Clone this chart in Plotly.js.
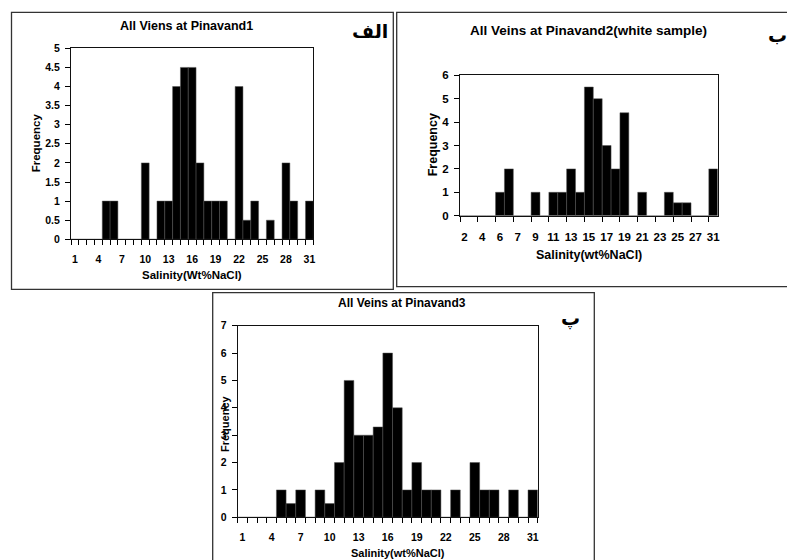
<!DOCTYPE html>
<html><head><meta charset="utf-8">
<script src="https://cdn.plot.ly/plotly-3.0.1.min.js"></script>
<style>html,body{margin:0;padding:0;background:#fff;} #chart{width:787px;height:560px;}</style>
</head><body><div id="chart"></div>
<script>
// ---- data ----
const salinity1 = ['1','2','3','4','5','6','7','8','9','10','11','12','13','14','15','16','17','18','19','20','21','22','23','24','25','26','27','28','29','30','31'];
const freq1 = [0,0,0,0,1,1,0,0,0,2,0,1,1,4,4.5,4.5,2,1,1,1,0,4,0.5,1,0,0.5,0,2,1,0,1];

const salinity2Labels = ['2','4','6','7','9','11','13','15','17','19','21','23','25','27','31'];
const freq2 = [0,0,0,0,1,2,0,0,1,0,1,1,2,1,5.5,5,3,2,4.4,0,1,0,0,1,0.55,0.55,0,0,2];

const salinity3 = ['1','2','3','4','5','6','7','8','9','10','11','12','13','14','15','16','17','18','19','20','21','22','23','24','25','26','27','28','29','30','31'];
const freq3 = [0,0,0,0,1,0.5,1,0,1,0.5,2,5,3,3,3.3,6,4,1,2,1,1,0,1,0,2,1,1,0,1,0,1];

const titles = ['All Viens at Pinavand1','All Veins at Pinavand2(white sample)','All Veins at Pinavand3'];
const xTitles = ['Salinity(Wt%NaCl)','Salinity(wt%NaCl)','Salinity(wt%NaCl)'];
const yTitle = 'Frequency';
const panelTags = ['الف','ب','پ'];

// ---- helpers ----
const W = 787, H = 560;
const px = x => x / W, py = y => 1 - y / H;
const FONT = 'Liberation Sans, Arial, sans-serif';

const pos1 = freq1.map((v,i)=>i+1);
const pos2 = freq2.map((v,i)=>i+1);
const pos3 = freq3.map((v,i)=>i+1);

const tv1 = [], tt1 = [];
salinity1.forEach((s,i)=>{ if(i%3===0){ tv1.push(i+1); tt1.push(s);} });
const tv3 = [], tt3 = [];
salinity3.forEach((s,i)=>{ if(i%3===0){ tv3.push(i+1); tt3.push(s);} });
const tv2 = salinity2Labels.map((s,i)=>2*i+1);

const barStyle = {color:'#000', line:{color:'#555', width:0.5}};
const traces = [
  {type:'bar', x:pos1, y:freq1, xaxis:'x', yaxis:'y', marker:barStyle, hoverinfo:'skip'},
  {type:'bar', x:pos2, y:freq2, xaxis:'x2', yaxis:'y2', marker:barStyle, hoverinfo:'skip'},
  {type:'bar', x:pos3, y:freq3, xaxis:'x3', yaxis:'y3', marker:barStyle, hoverinfo:'skip'}
];

function xAx(dom, anchor, n, tv, tt, fs, step, standoff){
  return {domain:dom, anchor:anchor, range:[0.5, n+0.5], tickmode:'array', tickvals:tv, ticktext:tt,
    ticks:'outside', ticklen:5, tickcolor:'rgba(0,0,0,0)',
    minor:{ticks:'outside', ticklen:5, tickwidth:1, tickcolor:'#000', tick0:0.5, dtick:step, showgrid:false},
    showline:true, linecolor:'#111', linewidth:1, mirror:true, showgrid:false, zeroline:false,
    tickfont:{family:FONT, size:fs, weight:'bold', color:'#000'}, ticklabelstandoff:standoff, fixedrange:true};
}
function yAx(dom, anchor, max, dt, fs){
  return {domain:dom, anchor:anchor, range:[0,max], tick0:0, dtick:dt, ticks:'outside', ticklen:5, tickcolor:'#000',
    showline:true, linecolor:'#111', linewidth:1, mirror:true, showgrid:false, zeroline:false,
    tickfont:{family:FONT, size:fs, weight:'bold', color:'#000'}, ticklabelstandoff:3, fixedrange:true};
}

function ann(text, x, y, size, angle, fam){
  return {text:text, x:px(x), y:py(y), xref:'paper', yref:'paper', showarrow:false,
    xanchor:'center', yanchor:'middle', textangle:angle||0,
    font:{family:fam||FONT, size:size, color:'#000', weight:'bold'}};
}

const layout = {
  width:W, height:H, margin:{l:0,r:0,t:0,b:0}, paper_bgcolor:'#fff', plot_bgcolor:'#fff',
  showlegend:false, bargap:0,
  xaxis: xAx([px(71),px(313.3)], 'y', freq1.length, tv1, tt1, 10.5, 1, 5),
  yaxis: yAx([py(239.3),py(48.3)], 'x', 5, 0.5, 10.5),
  xaxis2: xAx([px(460),px(717.7)], 'y2', freq2.length, tv2, salinity2Labels, 11.5, 2, 5),
  yaxis2: yAx([py(215.7),py(75.3)], 'x2', 6, 1, 11.5),
  xaxis3: xAx([px(237.7),px(537.7)], 'y3', freq3.length, tv3, tt3, 10.5, 1, 5),
  yaxis3: yAx([py(517.3),py(325.7)], 'x3', 7, 1, 10.5),
  annotations: [
    ann('<b>'+titles[0]+'</b>', 186.7, 26, 12.5),
    ann('<b>'+titles[1]+'</b>', 588.7, 30, 13.5),
    ann('<b>'+titles[2]+'</b>', 402, 303, 12),
    ann('<b>'+xTitles[0]+'</b>', 192, 275, 11.5),
    ann('<b>'+xTitles[1]+'</b>', 588.7, 255, 12.5),
    ann('<b>'+xTitles[2]+'</b>', 397.7, 552.5, 11),
    ann('<b>'+yTitle+'</b>', 36, 143.3, 11.5, -90),
    ann('<b>'+yTitle+'</b>', 433.3, 145, 12.5, -90),
    ann('<b>'+yTitle+'</b>', 225, 423, 11, -90),
    ann('<b>'+panelTags[0]+'</b>', 370, 31, 19, 0, 'DejaVu Sans'),
    ann('<b>'+panelTags[1]+'</b>', 777, 35, 19, 0, 'DejaVu Sans'),
    ann('<b>'+panelTags[2]+'</b>', 570, 318, 19, 0, 'DejaVu Sans')
  ],
  shapes: [
    {type:'rect', xref:'paper', yref:'paper', x0:px(11.5), x1:px(393.3), y0:py(289.3), y1:py(12.3), line:{color:'#333', width:1.3}},
    {type:'rect', xref:'paper', yref:'paper', x0:px(396.7), x1:px(792), y0:py(286.7), y1:py(12.3), line:{color:'#333', width:1.3}},
    {type:'rect', xref:'paper', yref:'paper', x0:px(212.7), x1:px(594.3), y0:py(566), y1:py(292.7), line:{color:'#333', width:1.3}}
  ]
};

Plotly.newPlot('chart', traces, layout, {displayModeBar:false, staticPlot:true});
</script>
</body></html>
